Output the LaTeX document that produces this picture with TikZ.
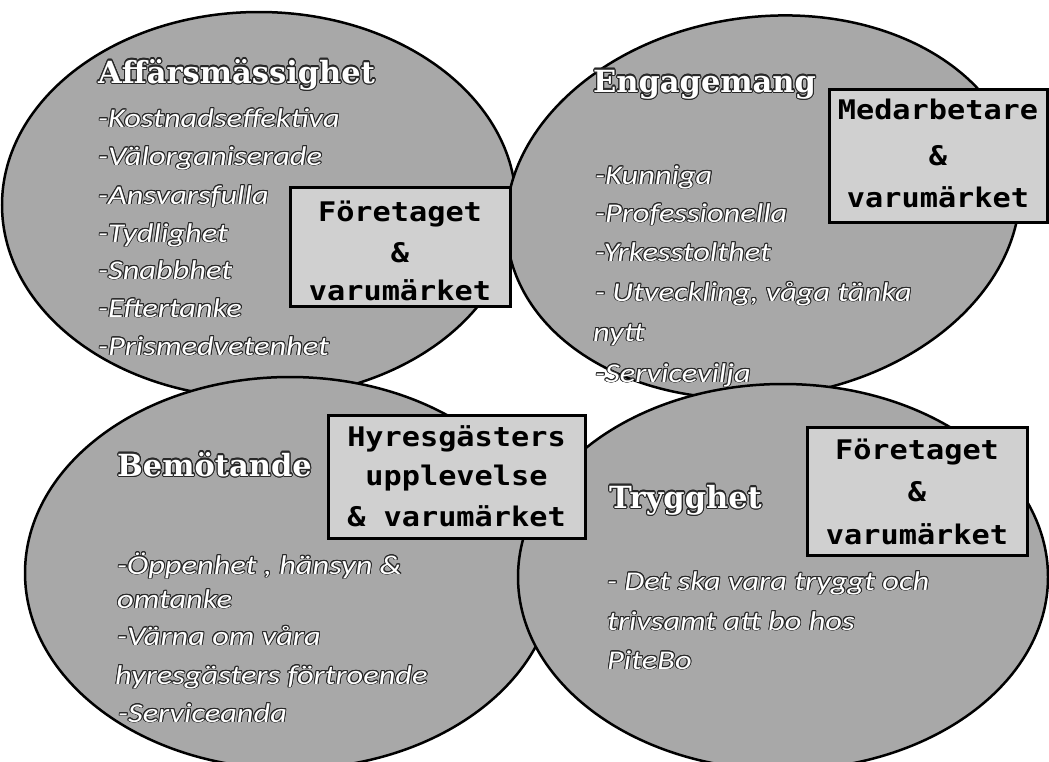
\documentclass[tikz,border=0pt]{standalone}
\usepackage{fontspec}
\usepackage[copies]{contour}
\newfontfamily\titlefont{DejaVu Serif}
\newfontfamily\itemfont[FakeStretch=1.2]{Carlito}
\newfontfamily\boxfont[FakeStretch=1.12]{DejaVu Sans Mono}
\contourlength{0.9pt}
\contournumber{16}
\definecolor{ellfill}{RGB}{168,168,168}
\definecolor{boxfill}{RGB}{208,208,208}
\definecolor{outl}{RGB}{40,40,40}
\newcommand{\ct}[1]{\contour{outl}{#1}}
\newcommand{\ctt}[1]{\contourlength{1.1pt}\contour{outl}{#1}}
\tikzset{
  oval/.style={draw=black, line width=2.5pt, fill=ellfill},
  titletext/.style={anchor=base west, inner sep=0pt, text=white, font=\titlefont\bfseries\fontsize{30.5}{30.5}\selectfont},
  itemtext/.style={anchor=base west, inner sep=0pt, text=white, font=\itemfont\itshape\fontsize{27}{27}\selectfont},
  brandbox/.style={draw=black, line width=3pt, fill=boxfill, inner sep=0pt},
  boxline/.style={anchor=base, inner sep=0pt, text=black, font=\boxfont\bfseries\fontsize{27}{27}\selectfont},
}
\begin{document}
\begin{tikzpicture}[x=1pt,y=-1pt]
\useasboundingbox (0,0) rectangle (1049,761);
\fill[white] (0,0) rectangle (1049,761);

% top left
\path[oval] (259,205) ellipse [x radius=257pt, y radius=193pt];
\node[titletext] (t1) at (98,83) {\ctt{Affärsmässighet}};
\node[itemtext] (a1) at (98,127) {\ct{-Kostnadseffektiva}};
\node[itemtext] (a2) at (98,165) {\ct{-Välorganiserade}};
\node[itemtext] (a3) at (98,204) {\ct{-Ansvarsfulla}};
\node[itemtext] (a4) at (98,242) {\ct{-Tydlighet}};
\node[itemtext] (a5) at (98,279) {\ct{-Snabbhet}};
\node[itemtext] (a6) at (98,317) {\ct{-Eftertanke}};
\node[itemtext] (a7) at (98,355) {\ct{-Prismedvetenhet}};

% top right
\path[oval, rotate around={8:(763,207)}] (763,207) ellipse [x radius=258pt, y radius=190pt];
\node[titletext] (t2) at (593,92) {\ctt{Engagemang}};
\node[itemtext] (e1) at (595,184) {\ct{-Kunniga}};
\node[itemtext] (e2) at (595,222) {\ct{-Professionella}};
\node[itemtext] (e3) at (595,261) {\ct{-Yrkesstolthet}};
\node[itemtext] (e4) at (595,301) {\ct{- Utveckling, våga tänka}};
\node[itemtext] (e5) at (593,341) {\ct{nytt}};
\node[itemtext] (e6) at (595,382) {\ct{-Servicevilja}};

% bottom left
\path[oval] (290,573) ellipse [x radius=265pt, y radius=196pt];
\node[titletext] (t3) at (117,476) {\ctt{Bemötande}};
\node[itemtext] (b1) at (117,574) {\ct{-Öppenhet , hänsyn \&}};
\node[itemtext] (b2) at (117,608) {\ct{omtanke}};
\node[itemtext] (b3) at (117,645) {\ct{-Värna om våra}};
\node[itemtext] (b4) at (115,684) {\ct{hyresgästers förtroende}};
\node[itemtext] (b5) at (118,722) {\ct{-Serviceanda}};

% bottom right
\path[oval] (783,577) ellipse [x radius=265pt, y radius=193pt];
\node[titletext] (t4) at (609,508) {\ctt{Trygghet}};
\node[itemtext] (d1) at (607,590) {\ct{- Det ska vara tryggt och}};
\node[itemtext] (d2) at (607,630) {\ct{trivsamt att bo hos}};
\node[itemtext] (d3) at (607,669) {\ct{PiteBo}};

% boxes
\node[brandbox, minimum width=220pt, minimum height=119pt] (box1) at (400,246.5) {};
\node[boxline] (box1a) at (box1.center |- 0,221) {Företaget};
\node[boxline] (box1b) at (box1.center |- 0,262) {\&};
\node[boxline] (box1c) at (box1.center |- 0,300) {varumärket};

\node[brandbox, minimum width=218pt, minimum height=133pt] (box2) at (938,155.5) {};
\node[boxline] (box2a) at (box2.center |- 0,119) {Medarbetare};
\node[boxline] (box2b) at (box2.center |- 0,165) {\&};
\node[boxline] (box2c) at (box2.center |- 0,207) {varumärket};

\node[brandbox, minimum width=257pt, minimum height=123pt] (box3) at (456.5,476.5) {};
\node[boxline] (box3a) at (box3.center |- 0,446) {Hyresgästers};
\node[boxline] (box3b) at (box3.center |- 0,485) {upplevelse};
\node[boxline] (box3c) at (box3.center |- 0,526) {\& varumärket};

\node[brandbox, minimum width=220pt, minimum height=128pt] (box4) at (917,491) {};
\node[boxline] (box4a) at (box4.center |- 0,459) {Företaget};
\node[boxline] (box4b) at (box4.center |- 0,501) {\&};
\node[boxline] (box4c) at (box4.center |- 0,544) {varumärket};
\end{tikzpicture}
\end{document}
